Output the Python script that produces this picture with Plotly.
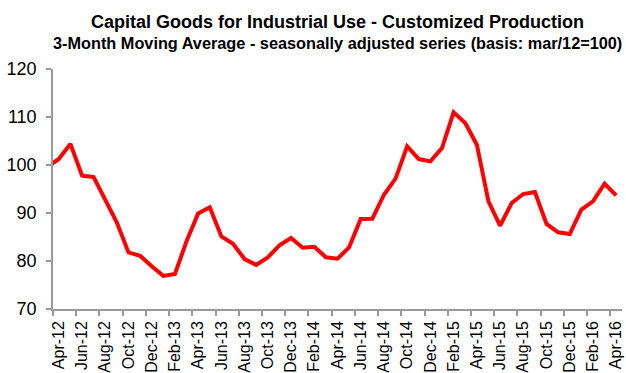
import plotly.graph_objects as go

# Monthly series, Mar-12 .. Apr-16 (3-month moving average, mar/12 = 100)
months = [
    "Mar-12", "Apr-12", "May-12", "Jun-12", "Jul-12", "Aug-12", "Sep-12", "Oct-12", "Nov-12", "Dec-12",
    "Jan-13", "Feb-13", "Mar-13", "Apr-13", "May-13", "Jun-13", "Jul-13", "Aug-13", "Sep-13", "Oct-13",
    "Nov-13", "Dec-13", "Jan-14", "Feb-14", "Mar-14", "Apr-14", "May-14", "Jun-14", "Jul-14", "Aug-14",
    "Sep-14", "Oct-14", "Nov-14", "Dec-14", "Jan-15", "Feb-15", "Mar-15", "Apr-15", "May-15", "Jun-15",
    "Jul-15", "Aug-15", "Sep-15", "Oct-15", "Nov-15", "Dec-15", "Jan-16", "Feb-16", "Mar-16", "Apr-16",
]
values = [
    99.6, 101.25, 104.4, 97.8, 97.5, 92.8, 88.0, 81.8, 81.1, 78.9,
    76.9, 77.3, 84.1, 89.9, 91.2, 85.1, 83.6, 80.4, 79.2, 80.75,
    83.25, 84.8, 82.75, 82.95, 80.76, 80.48, 82.84, 88.74, 88.81, 93.81,
    97.15, 103.88, 101.24, 100.76, 103.54, 110.96, 108.74, 104.23, 92.42, 87.35,
    92.08, 93.95, 94.37, 87.71, 85.97, 85.62, 90.69, 92.42, 96.1, 93.67,
]
# Labelled months on the horizontal axis (every second month from Apr-12)
tick_labels = months[1::2]

y_ticks = [70, 80, 90, 100, 110, 120]

FONT = "Liberation Sans, Arial, sans-serif"
AXIS_GREY = "#9a9a9a"

pos = list(range(len(months)))
label_pos = [pos[months.index(m)] for m in tick_labels]
boundary_pos = [p - 0.5 for p in label_pos]

fig = go.Figure()
fig.add_trace(go.Scatter(
    x=pos, y=values, mode="lines",
    line=dict(color="#ff0000", width=4),
    hoverinfo="skip", showlegend=False,
))

fig.update_layout(
    width=626, height=373,
    margin=dict(l=53, r=4, t=69, b=64),
    paper_bgcolor="white", plot_bgcolor="white",
    font=dict(family=FONT, color="black"),
    annotations=[
        dict(text="<b>Capital Goods for Industrial Use - Customized Production</b>",
             xref="paper", yref="paper", x=0.5, y=1.196, xanchor="center", yanchor="middle",
             showarrow=False, font=dict(family=FONT, size=18, color="black")),
        dict(text="<b>3-Month Moving Average - seasonally adjusted series (basis: mar/12=100)</b>",
             xref="paper", yref="paper", x=0.5, y=1.110, xanchor="center", yanchor="middle",
             showarrow=False, font=dict(family=FONT, size=16.3, color="black")),
    ],
)

fig.update_xaxes(
    automargin=False,
    range=[0.5, len(months) - 0.5],
    tickmode="array", tickvals=label_pos, ticktext=tick_labels,
    tickangle=-90, ticks="", ticklen=0,
    tickfont=dict(family=FONT, size=16, color="black"),
    ticklabelstandoff=4,
    ticklabeloverflow="allow",
    showline=True, linecolor=AXIS_GREY, linewidth=1.5,
    showgrid=False, zeroline=False,
    minor=dict(tickmode="array", tickvals=boundary_pos, ticks="outside",
               ticklen=5, tickwidth=1.5, tickcolor=AXIS_GREY, showgrid=False),
)
fig.update_yaxes(
    automargin=False,
    range=[70, 120], tickmode="array", tickvals=y_ticks,
    ticks="outside", ticklen=5, tickwidth=1.5, tickcolor=AXIS_GREY,
    tickfont=dict(family=FONT, size=18, color="black"),
    ticklabelstandoff=6,
    showline=True, linecolor=AXIS_GREY, linewidth=1.5,
    showgrid=False, zeroline=False,
)

fig.write_html("out.html")
